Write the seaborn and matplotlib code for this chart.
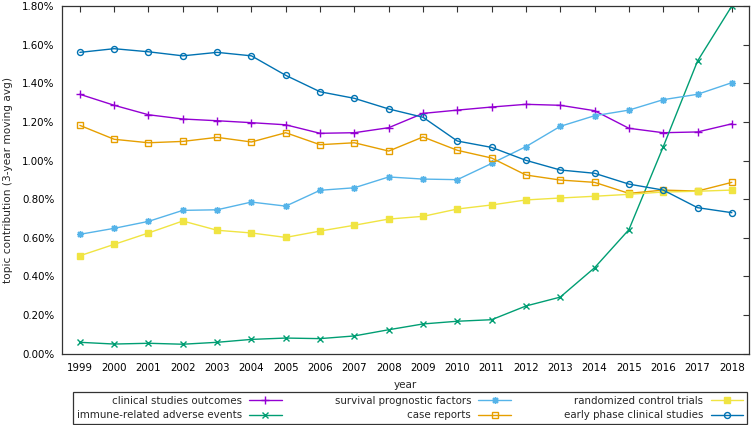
import matplotlib
matplotlib.use("Agg")
import matplotlib.pyplot as plt
import seaborn as sns
import pandas as pd
from matplotlib.ticker import FuncFormatter, MultipleLocator

years = list(range(1999, 2019))

clinical_studies_outcomes = [1.343, 1.286, 1.237, 1.215, 1.206, 1.196, 1.185, 1.141, 1.144, 1.170,
                             1.244, 1.261, 1.277, 1.291, 1.286, 1.258, 1.167, 1.144, 1.148, 1.190]
immune_related_adverse_events = [0.059, 0.050, 0.054, 0.049, 0.059, 0.074, 0.081, 0.078, 0.092, 0.124,
                                 0.154, 0.168, 0.176, 0.247, 0.293, 0.445, 0.642, 1.071, 1.515, 1.800]
survival_prognostic_factors = [0.618, 0.649, 0.685, 0.742, 0.745, 0.785, 0.764, 0.846, 0.859, 0.915,
                               0.904, 0.901, 0.985, 1.072, 1.177, 1.232, 1.261, 1.315, 1.343, 1.403]
case_reports = [1.182, 1.110, 1.092, 1.099, 1.120, 1.096, 1.144, 1.082, 1.092, 1.049,
                1.122, 1.053, 1.013, 0.925, 0.899, 0.887, 0.830, 0.847, 0.842, 0.887]
randomized_control_trials = [0.507, 0.566, 0.625, 0.687, 0.639, 0.625, 0.602, 0.635, 0.665, 0.697,
                             0.711, 0.749, 0.770, 0.796, 0.806, 0.815, 0.825, 0.837, 0.841, 0.847]
early_phase_clinical_studies = [1.560, 1.579, 1.563, 1.542, 1.560, 1.542, 1.441, 1.356, 1.322, 1.267,
                                1.224, 1.101, 1.068, 1.001, 0.951, 0.934, 0.878, 0.847, 0.756, 0.730]

series_names = ["clinical studies outcomes", "immune-related adverse events",
                "survival prognostic factors", "case reports",
                "randomized control trials", "early phase clinical studies"]
series_values = [clinical_studies_outcomes, immune_related_adverse_events,
                 survival_prognostic_factors, case_reports,
                 randomized_control_trials, early_phase_clinical_studies]
colors = ["#9400d3", "#009e73", "#56b4e9", "#e69f00", "#f0e442", "#0072b2"]
markers = ["+", "x", (8, 2, 0), "s", "s", "o"]
filled = [True, True, True, False, True, False]
msizes = [5.5, 4.5, 5, 4.3, 4.3, 4.3]

sns.set_theme(style="white")
plt.rcParams["font.family"] = ["DejaVu Sans"]

fig = plt.figure(figsize=(7.51, 4.25), dpi=100)
ax = fig.add_axes([62/751, 1-353.7/425, (749-62)/751, (353.7-6)/425])

for name, vals, c, m, f, ms in zip(series_names, series_values, colors, markers, filled, msizes):
    df = pd.DataFrame({"year": years, "value": vals})
    kw = dict(marker=m, markersize=ms, markeredgewidth=1.0, color=c, linewidth=1.0, label=name)
    if not f:
        kw["markerfacecolor"] = "none"
    kw["markeredgecolor"] = c
    sns.lineplot(data=df, x="year", y="value", ax=ax, legend=False, **kw)

ax.set_xlim(1998.48, 2018.5)
ax.set_ylim(0, 1.8)
ax.set_xticks(years)
ax.set_xticklabels([str(y) for y in years])
ax.yaxis.set_major_locator(MultipleLocator(0.2))
ax.yaxis.set_major_formatter(FuncFormatter(lambda v, p: f"{v:.2f}%"))
ax.tick_params(axis="both", direction="in", length=4, width=0.8, color="#333333",
               top=True, right=True, labelsize=7.4, labelcolor="black")
ax.tick_params(axis="x", pad=6.5)
ax.tick_params(axis="y", pad=5.5)
for s in ax.spines.values():
    s.set_color("#333333")
    s.set_linewidth(0.9)
ax.set_xlabel("year", fontsize=7.5, labelpad=5)
ax.set_ylabel("topic contribution (3-year moving avg)", fontsize=7.6, labelpad=6.5)

handles = ax.get_lines()[:len(series_names)]
leg = fig.legend(handles, series_names, ncol=3, markerfirst=False, mode="expand",
                 bbox_to_anchor=(73/751, 1/425, 674/751, 29/425), loc="lower left",
                 bbox_transform=fig.transFigure, frameon=True, fancybox=False,
                 edgecolor="black", fontsize=7.4, borderaxespad=0, borderpad=0.35,
                 labelspacing=0.45, handlelength=3.2, handletextpad=0.7, numpoints=1)
leg.get_frame().set_linewidth(0.9)

fig.savefig("out.png", dpi=100)
